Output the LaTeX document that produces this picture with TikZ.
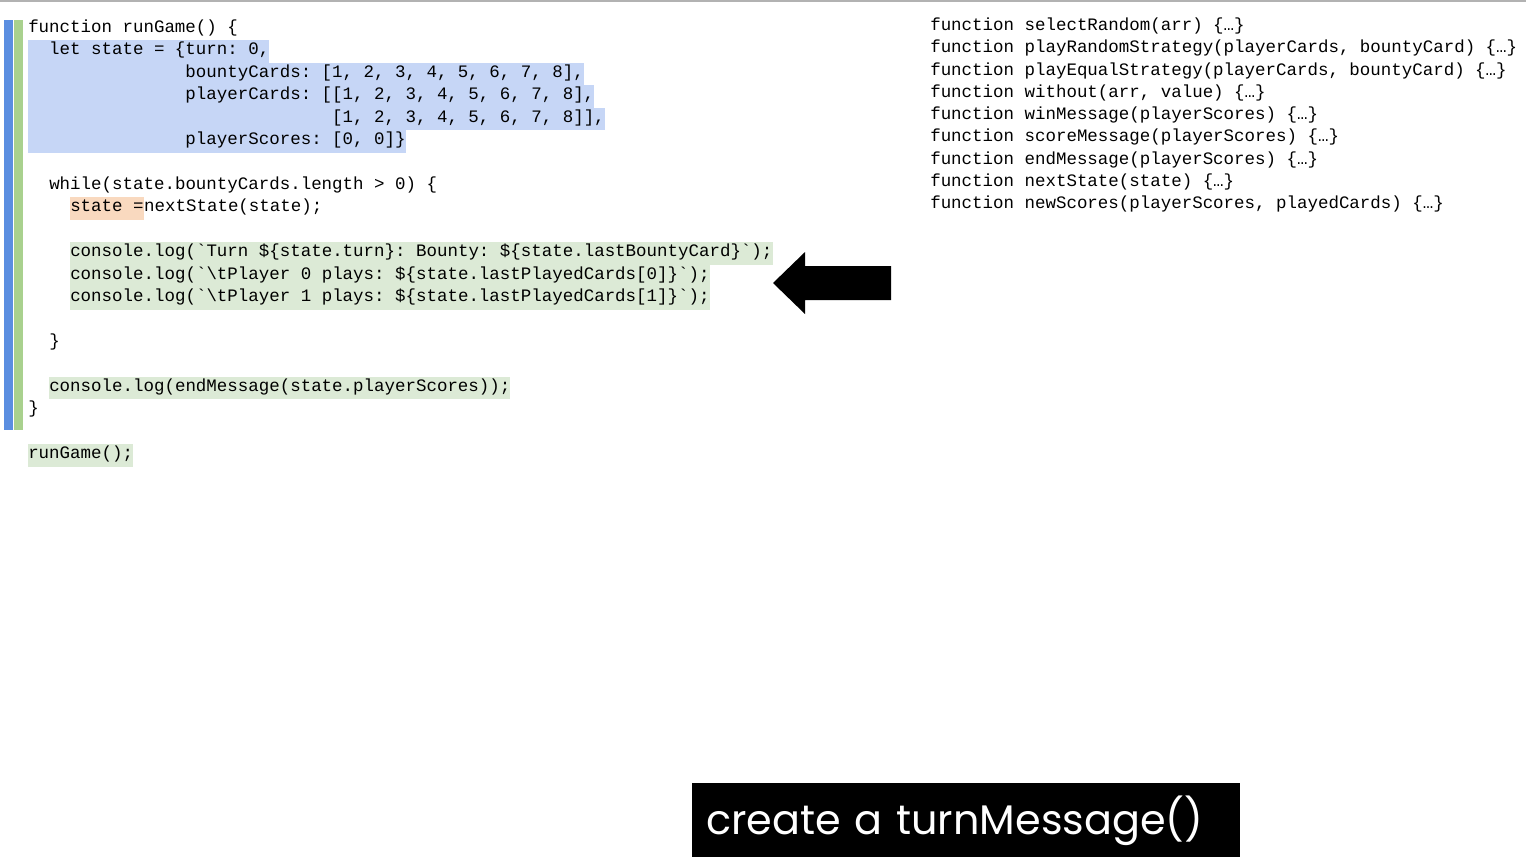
\documentclass[tikz,border=0pt]{standalone}
\usepackage{fontspec}
\setmonofont{Liberation Mono}
\newfontfamily\capfont{Poppins}
\usetikzlibrary{positioning}
\definecolor{selblue}{HTML}{C6D6F6}
\definecolor{hlgreen}{HTML}{DCEAD6}
\definecolor{hlorange}{HTML}{F9D9BF}
\definecolor{barblue}{HTML}{5B8EE0}
\definecolor{bargreen}{HTML}{A9D18E}
\begin{document}
\begin{tikzpicture}[x=0.75pt, y=-0.75pt,
  every node/.style={anchor=west, inner xsep=0pt, inner ysep=0pt,
    font=\ttfamily\fontsize{13.1}{15}\selectfont, text height=11pt, text depth=5.8pt}]

			% Page and bars
			\useasboundingbox (0,0) rectangle (1526,857);
			\fill[white] (0,0) rectangle (1526,857);
			\draw[gray!60, line width=1.5pt] (0,0.5) -- (1526,0.5);
			\fill[barblue] (4,20) rectangle (13,430);
			\fill[bargreen] (14,20) rectangle (23,430);

			% Code of runGame
			\node (l1) at (28,29) {function runGame() \{};
			\node[fill=selblue] (l2) at (28,51.5) {~~let state = \{turn: 0,~};
			\node[fill=selblue] (l3) at (28,74) {~~~~~~~~~~~~~~~bountyCards: [1, 2, 3, 4, 5, 6, 7, 8],~};
			\node[fill=selblue] (l4) at (28,96.5) {~~~~~~~~~~~~~~~playerCards: [[1, 2, 3, 4, 5, 6, 7, 8],~};
			\node[fill=selblue] (l5) at (28,119) {~~~~~~~~~~~~~~~~~~~~~~~~~~~~~[1, 2, 3, 4, 5, 6, 7, 8]],~};
			\node[fill=selblue] (l6) at (28,141.5) {~~~~~~~~~~~~~~~playerScores: [0, 0]\}};
			\node (l7) at (49,186) {while(state.bountyCards.length > 0) \{};
			\node[fill=hlorange] (l8a) at (70,208.5) {state =~};
			\node (l8b) [right=0pt of l8a] {nextState(state);};
			\node[fill=hlgreen] (l9) at (70,253.5) {console.log(\textasciigrave Turn \$\{state.turn\}: Bounty: \$\{state.lastBountyCard\}\textasciigrave);};
			\node[fill=hlgreen] (l10) at (70,276) {console.log(\textasciigrave\textbackslash tPlayer 0 plays: \$\{state.lastPlayedCards[0]\}\textasciigrave);};
			\node[fill=hlgreen] (l11) at (70,298.5) {console.log(\textasciigrave\textbackslash tPlayer 1 plays: \$\{state.lastPlayedCards[1]\}\textasciigrave);};
			\node (l12) at (49,343) {\}};
			\node[fill=hlgreen] (l13) at (49,388) {console.log(endMessage(state.playerScores));};
			\node (l14) at (28,410.5) {\}};
			\node[fill=hlgreen] (l15) at (28,455.5) {runGame();};

			% Collapsed helpers
			\foreach \f [count=\i] in {selectRandom(arr),
			    playRandomStrategy(playerCards{,} bountyCard),
			    playEqualStrategy(playerCards{,} bountyCard),
			    without(arr{,} value), winMessage(playerScores),
			    scoreMessage(playerScores), endMessage(playerScores),
			    nextState(state), newScores(playerScores{,} playedCards)}
			  \node (f\i) at (930,{27+22.3*(\i-1)}) {function \f\ \{…\}};

			% Pointer arrow
			\fill[black] (891,266) -- (805,266) -- (805,252) -- (773,283)
			  -- (805,314) -- (805,300) -- (891,300) -- cycle;

			% Caption
			\node[fill=black, text=white, anchor=north west, minimum width=411pt,
			  minimum height=55.5pt, text height=, text depth=, inner xsep=10.5pt,
			  font=\capfont\fontsize{31}{36}\selectfont, align=left, text width=390pt]
			  (cap) at (692,783) {create a turnMessage()};

		\end{tikzpicture}
\end{document}
